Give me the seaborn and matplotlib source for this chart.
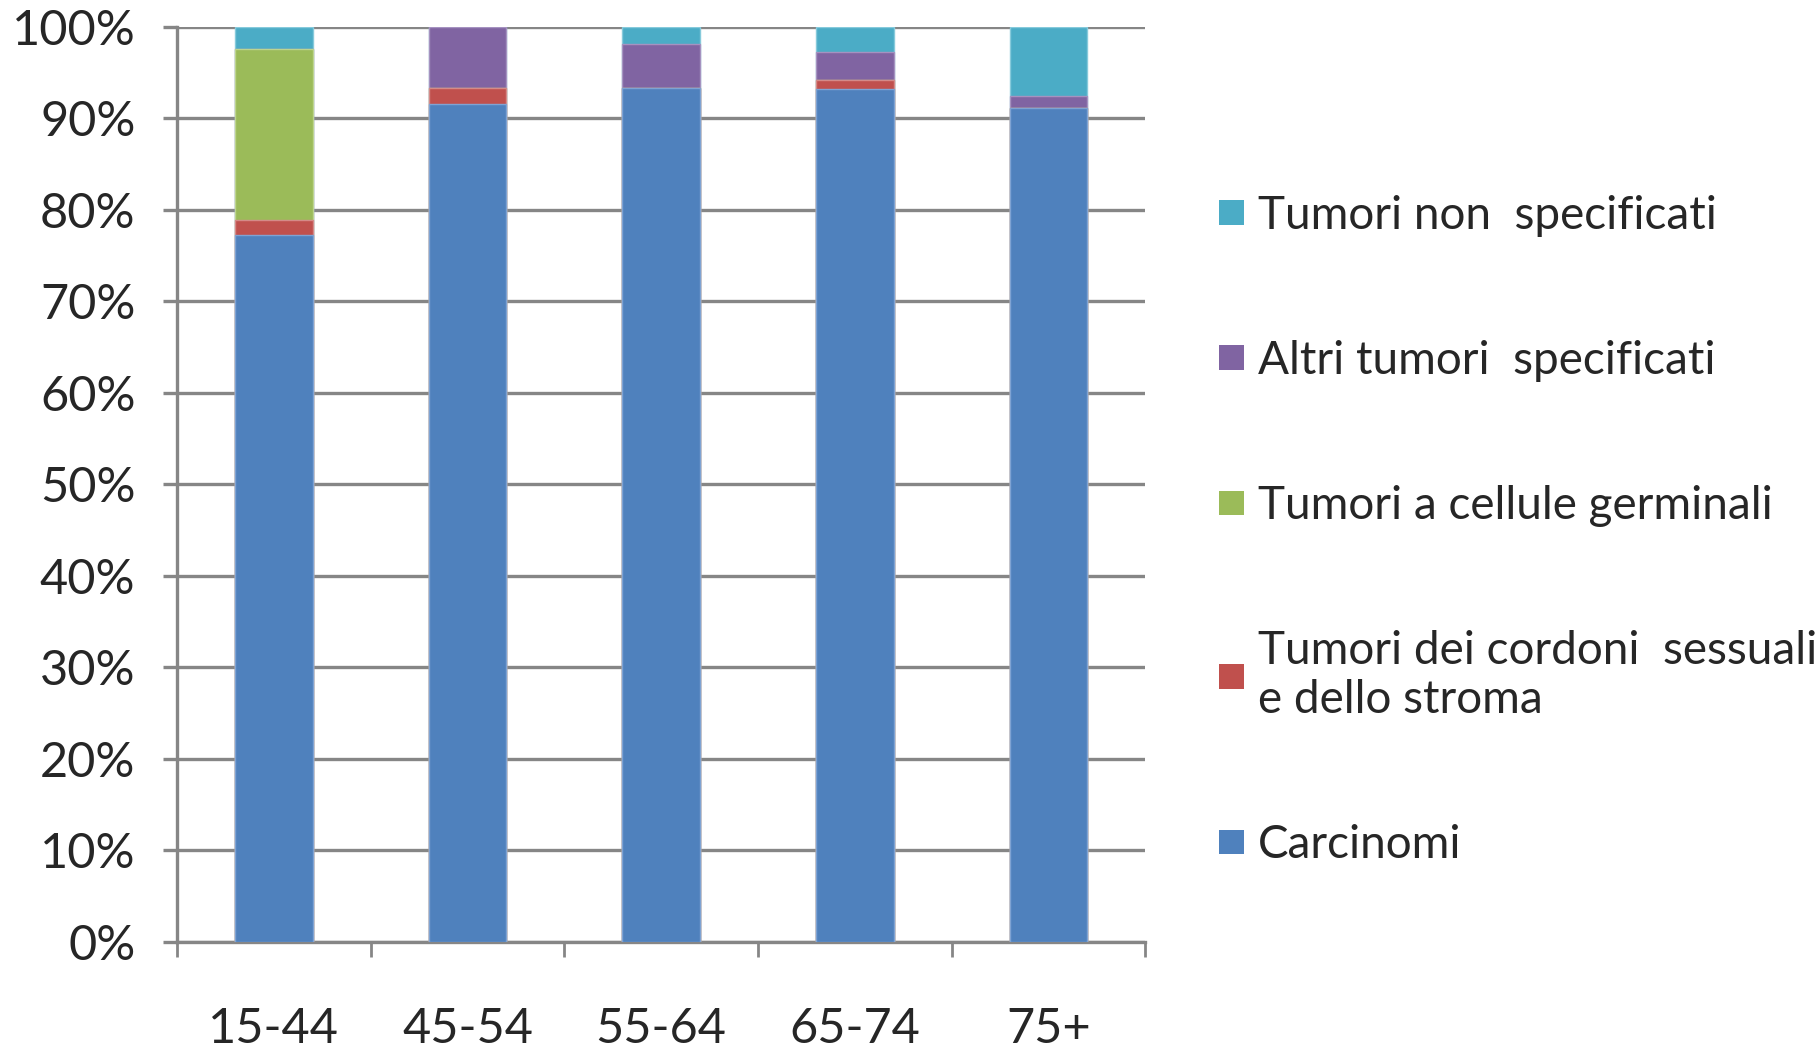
import numpy as np
import pandas as pd
import matplotlib
matplotlib.use("Agg")
import matplotlib.pyplot as plt
import seaborn as sns
from matplotlib.patches import Patch

age_groups = ["15-44", "45-54", "55-64", "65-74", "75+"]
carcinomi = [77.2, 91.5, 93.3, 93.2, 91.1]
cordoni = [1.7, 1.8, 0.0, 1.0, 0.0]
germinali = [18.7, 0.0, 0.0, 0.0, 0.0]
altri = [0.0, 6.7, 4.8, 3.0, 1.3]
non_spec = [2.4, 0.0, 1.9, 2.8, 7.6]

series_names = ["Carcinomi", "Tumori dei cordoni  sessuali\ne dello stroma",
                "Tumori a cellule germinali", "Altri tumori  specificati",
                "Tumori non  specificati"]
series_values = [carcinomi, cordoni, germinali, altri, non_spec]
colors = ["#4F81BD", "#C0504D", "#9BBB59", "#8064A2", "#4BACC6"]
edges = ["#7FA3D3", "#D58A88", "#BDD48F", "#A592C0", "#86CADB"]

sns.set_theme(style="white")
plt.rcParams['font.family'] = ['Lato', 'DejaVu Sans']

fig = plt.figure(figsize=(18.18, 10.51), dpi=100)
ax = fig.add_axes([0.0974, 0.1037, 0.5326, 0.8709])

cum = np.cumsum(np.array(series_values), axis=0) / 100.0
# draw from top-most cumulative down so each layer shows its segment
for i in range(len(series_values) - 1, -1, -1):
    df = pd.DataFrame({"age": age_groups, "val": cum[i]})
    sns.barplot(data=df, x="age", y="val", color=colors[i], ax=ax,
                width=0.4, saturation=1, edgecolor=edges[i], linewidth=1.0,
                zorder=3)

ax.set_ylim(0, 1.0)
ax.set_xlim(-0.5, len(age_groups) - 0.5)
ax.set_xlabel("")
ax.set_ylabel("")

ax.set_yticks(np.arange(0, 1.01, 0.1))
ax.set_yticklabels([f"{int(round(v*100))}%" for v in np.arange(0, 1.01, 0.1)],
                   fontsize=35)
ax.yaxis.grid(True, color="#868686", linewidth=2.4, zorder=0)
ax.set_axisbelow(True)

ax.set_xticks(np.arange(-0.5, len(age_groups), 1.0))
ax.set_xticklabels([""] * (len(age_groups) + 1))
ax.set_xticks(np.arange(len(age_groups)), minor=True)
ax.set_xticklabels(age_groups, minor=True, fontsize=35)
ax.tick_params(axis="x", which="major", length=11, width=2, color="#868686",
               direction="out", bottom=True)
ax.tick_params(axis="x", which="minor", length=0, pad=47)
ax.tick_params(axis="y", length=10, width=2.4, color="#868686",
               direction="out", left=True, pad=20)

for s in ["top", "right"]:
    ax.spines[s].set_visible(False)
for s in ["left", "bottom"]:
    ax.spines[s].set_color("#868686")
    ax.spines[s].set_linewidth(2.4)

handles = [Patch(facecolor=colors[i], edgecolor="none") for i in range(len(series_names))]
leg = fig.legend(handles[::-1], series_names[::-1], loc="upper left",
                 bbox_to_anchor=(0.6705, 0.8145), frameon=False, fontsize=33,
                 labelspacing=2.25, handlelength=0.55, handleheight=0.45,
                 handletextpad=0.3, borderaxespad=0, borderpad=0)

fig.savefig("out.png", dpi=100, facecolor="white")
